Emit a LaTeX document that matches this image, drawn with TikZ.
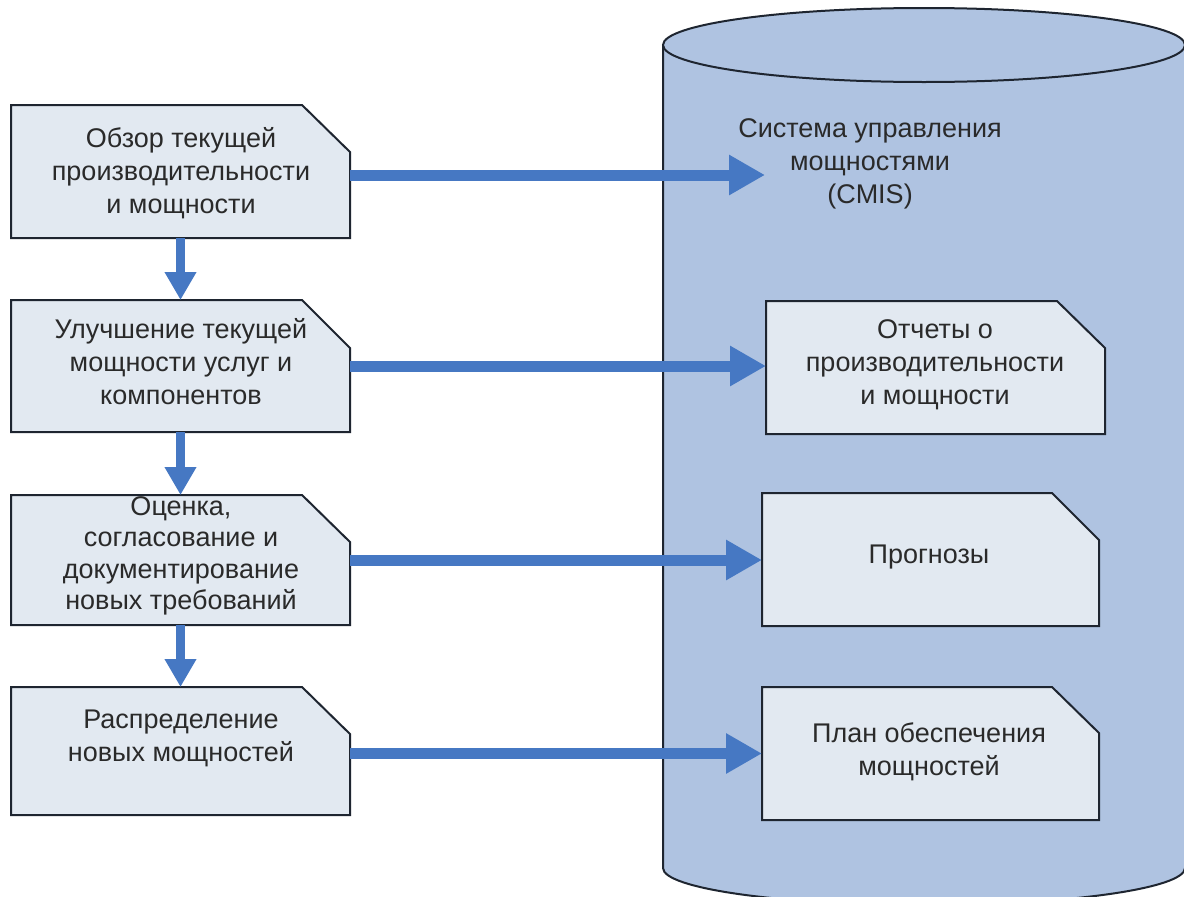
\documentclass[tikz,border=0pt]{standalone}
\usepackage{fontspec}
\setmainfont{Liberation Sans}
\usetikzlibrary{arrows.meta}
\definecolor{cyl}{HTML}{AFC3E1}
\definecolor{boxfill}{HTML}{E2E9F1}
\definecolor{arr}{HTML}{4678C3}
\definecolor{txt}{HTML}{2A2A2A}
\definecolor{edge}{HTML}{1E2530}
\tikzset{
  boxshape/.style={fill=boxfill, draw=edge, line width=2pt, line join=miter},
  boxnode/.style={inner sep=0pt, outer sep=0pt, draw=none},
  lbl/.style={text=txt, align=center, font=\fontsize{27}{33}\selectfont, inner sep=0pt},
  harrow/.style={draw=arr, line width=11pt, -{Triangle[length=36pt,width=38pt]}},
  varrow/.style={draw=arr, line width=9pt, -{Triangle[length=28pt,width=30pt]}},
  cylline/.style={draw=edge, line width=2pt},
}
% name, x1, y1, x2, y2, cut width, cut height
\newcommand\cutbox[7]{%
  \path[boxshape] (#2,#3) -- ({#4-#6},#3) -- (#4,{#3+#7}) -- (#4,#5) -- (#2,#5) -- cycle;
  \node[boxnode, minimum width=#4pt-#2pt, minimum height=#5pt-#3pt] (#1) at ({(#2+#4)/2},{(#3+#5)/2}) {};
}
\begin{document}
\begin{tikzpicture}[x=1pt,y=-1pt]
\useasboundingbox (0,0) rectangle (1184,897);
\clip (0,0) rectangle (1184,897);
\fill[white] (0,0) rectangle (1184,897);
% cylinder
\fill[cyl] (663,45) -- (663,868) arc[start angle=180, end angle=360, x radius=261pt, y radius=37pt] -- (1185,45) -- cycle;
\draw[cylline] (663,45) -- (663,868) arc[start angle=180, end angle=360, x radius=261pt, y radius=37pt];
\draw[cylline, fill=cyl] (924,45) ellipse[x radius=261pt, y radius=37pt];
\node[lbl] (cmis) at (870,164) {Система управления\\мощностями\\(CMIS)};
% left boxes
\cutbox{b1}{11}{105}{350}{238}{48}{47}
\cutbox{b2}{11}{300}{350}{432}{48}{48}
\cutbox{b3}{11}{495}{350}{625}{48}{47}
\cutbox{b4}{11}{687}{350}{815}{48}{47}
% right boxes
\cutbox{r1}{766}{301}{1105}{434}{48}{47}
\cutbox{r2}{762}{493}{1099}{626}{47}{47}
\cutbox{r3}{762}{687}{1099}{820}{47}{46}
% labels
\node[lbl] (l1) at (181,173) {Обзор текущей\\производительности\\и мощности};
\node[lbl] (l2) at (181,362) {Улучшение текущей\\мощности услуг и\\компонентов};
\node[lbl, font=\fontsize{27}{31.5}\selectfont] (l3) at (181,556) {Оценка,\\согласование и\\документирование\\новых требований};
\node[lbl] (l4) at (181,738) {Распределение\\новых мощностей};
\node[lbl] (lr1) at (935,365) {Отчеты о\\производительности\\и мощности};
\node[lbl] (lr2) at (929,557) {Прогнозы};
\node[lbl] (lr3) at (929,752) {План обеспечения\\мощностей};
% connectors
\coordinate (t1) at (765,175);
\draw[harrow] (b1.east |- t1) -- (t1);
\draw[harrow] (b2.east) -- (b2.east -| r1.west);
\draw[harrow] (b3.east) -- (b3.east -| r2.west);
\draw[harrow] (b4.east |- r3.west) -- (r3.west);
\draw[varrow] (b1.south) -- (b2.north);
\draw[varrow] (b2.south) -- (b3.north);
\draw[varrow] (b3.south) -- (b4.north);
\end{tikzpicture}
\end{document}
